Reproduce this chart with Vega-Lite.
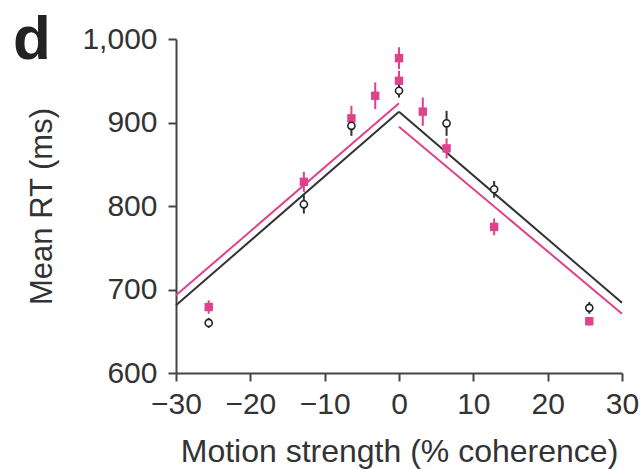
{
  "$schema": "https://vega.github.io/schema/vega-lite/v6.json",
  "width": 446,
  "height": 334,
  "autosize": "none",
  "padding": {"left": 176, "top": 39, "right": 20, "bottom": 96},
  "title": {"text": "d", "anchor": "start", "frame": "group", "fontSize": 62, "fontWeight": "bold", "font": "Liberation Sans", "color": "#222", "baseline": "top", "offset": 0, "dx": -163, "dy": 48},
  "config": {
    "view": {"stroke": null},
    "font": "Liberation Sans",
    "axis": {
      "grid": false,
      "domainColor": "#444",
      "domainWidth": 2,
      "tickColor": "#444",
      "tickWidth": 2,
      "tickSize": 8,
      "labelFontSize": 30,
      "labelColor": "#333",
      "titleFontSize": 31,
      "titleFontWeight": "normal",
      "titleColor": "#333",
      "labelFlush": false
    }
  },
  "datasets": {
    "pts": [
      {"coh": -25.6, "cond": "pink", "rt": 679, "lo": 671, "hi": 687},
      {"coh": -12.8, "cond": "pink", "rt": 829, "lo": 817, "hi": 841},
      {"coh": -6.4, "cond": "pink", "rt": 905, "lo": 890, "hi": 920},
      {"coh": -3.2, "cond": "pink", "rt": 932, "lo": 916, "hi": 948},
      {"coh": 0, "cond": "pink", "rt": 977, "lo": 964, "hi": 990},
      {"coh": 0, "cond": "pink", "rt": 950, "lo": 938, "hi": 962},
      {"coh": 3.2, "cond": "pink", "rt": 913, "lo": 896, "hi": 930},
      {"coh": 6.4, "cond": "pink", "rt": 869, "lo": 857, "hi": 881},
      {"coh": 12.8, "cond": "pink", "rt": 775, "lo": 765, "hi": 785},
      {"coh": 25.6, "cond": "pink", "rt": 662, "lo": 657, "hi": 667},
      {"coh": -25.6, "cond": "black", "rt": 660, "lo": 654, "hi": 666},
      {"coh": -12.8, "cond": "black", "rt": 802, "lo": 791, "hi": 813},
      {"coh": -6.4, "cond": "black", "rt": 896, "lo": 884, "hi": 908},
      {"coh": 0, "cond": "black", "rt": 938, "lo": 930, "hi": 946},
      {"coh": 6.4, "cond": "black", "rt": 899, "lo": 884, "hi": 914},
      {"coh": 12.8, "cond": "black", "rt": 820, "lo": 810, "hi": 830},
      {"coh": 25.6, "cond": "black", "rt": 678, "lo": 671, "hi": 685}
    ],
    "fits": [
      {"cond": "black", "seg": "bL", "coh": -30, "rt": 681},
      {"cond": "black", "seg": "bL", "coh": 0, "rt": 913},
      {"cond": "black", "seg": "bR", "coh": 0, "rt": 913},
      {"cond": "black", "seg": "bR", "coh": 30, "rt": 684},
      {"cond": "pink", "seg": "pL", "coh": -30, "rt": 693},
      {"cond": "pink", "seg": "pL", "coh": 0, "rt": 923},
      {"cond": "pink", "seg": "pR", "coh": 0, "rt": 895},
      {"cond": "pink", "seg": "pR", "coh": 30, "rt": 671}
    ]
  },
  "layer": [
    {
      "data": {"name": "fits"},
      "mark": {"type": "line", "strokeWidth": 2},
      "encoding": {
        "x": {"field": "coh", "type": "quantitative", "scale": {"domain": [-30, 30], "nice": false}, "axis": {"values": [-30, -20, -10, 0, 10, 20, 30], "title": "Motion strength (% coherence)", "titleFontSize": 32, "labelPadding": 8, "titleBaseline": "alphabetic", "titleY": 88, "format": "d"}},
        "y": {"field": "rt", "type": "quantitative", "scale": {"domain": [600, 1000], "nice": false, "zero": false}, "axis": {"values": [600, 700, 800, 900, 1000], "title": "Mean RT (ms)", "labelPadding": 11, "format": ",d", "titleBaseline": "alphabetic", "titleX": -125}},
        "color": {"field": "cond", "type": "nominal", "scale": {"domain": ["pink", "black"], "range": ["#e0408c", "#333333"]}, "legend": null},
        "detail": {"field": "seg"}
      }
    },
    {
      "data": {"name": "pts"},
      "mark": {"type": "rule", "strokeWidth": 2},
      "encoding": {
        "x": {"field": "coh", "type": "quantitative"},
        "y": {"field": "lo", "type": "quantitative"},
        "y2": {"field": "hi"},
        "color": {"field": "cond", "type": "nominal", "legend": null}
      }
    },
    {
      "data": {"name": "pts"},
      "transform": [{"filter": "datum.cond == 'pink'"}],
      "mark": {"type": "square", "filled": true, "size": 70, "opacity": 1, "color": "#e0408c"},
      "encoding": {
        "x": {"field": "coh", "type": "quantitative"},
        "y": {"field": "rt", "type": "quantitative"}
      }
    },
    {
      "data": {"name": "pts"},
      "transform": [{"filter": "datum.cond == 'black'"}],
      "mark": {"type": "point", "shape": "circle", "filled": false, "fill": "white", "size": 50, "strokeWidth": 1.6, "opacity": 1, "color": "#222"},
      "encoding": {
        "x": {"field": "coh", "type": "quantitative"},
        "y": {"field": "rt", "type": "quantitative"}
      }
    }
  ]
}
